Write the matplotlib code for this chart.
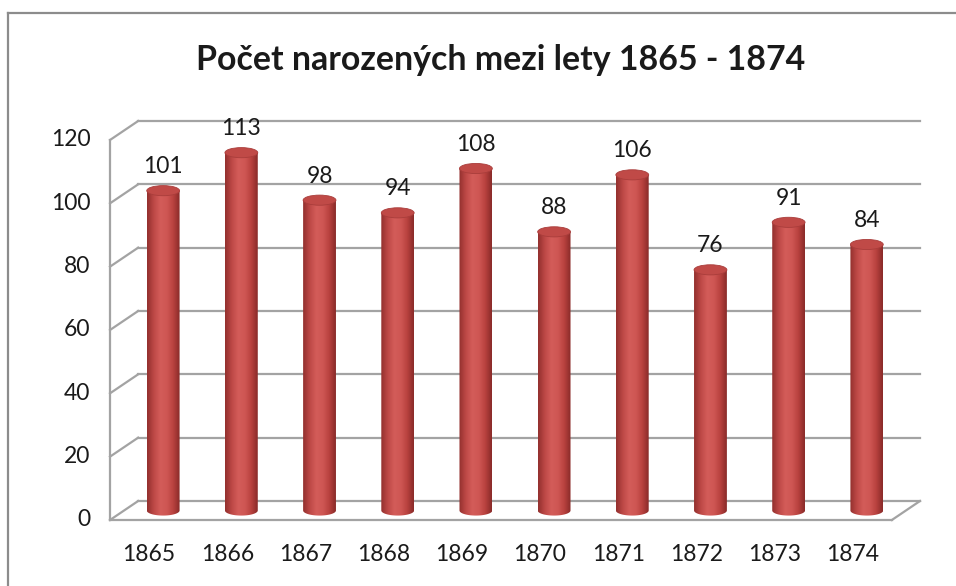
import matplotlib.pyplot as plt
import numpy as np
from matplotlib.colors import LinearSegmentedColormap
from matplotlib.lines import Line2D
from matplotlib.patches import Ellipse, Polygon

plt.rcParams['font.family'] = ['Lato', 'DejaVu Sans']

# data
years = ["1865", "1866", "1867", "1868", "1869", "1870", "1871", "1872", "1873", "1874"]
births = [101, 113, 98, 94, 108, 88, 106, 76, 91, 84]
y_ticks = [0, 20, 40, 60, 80, 100, 120]
title = "Počet narozených mezi lety 1865 - 1874"

# pseudo-3D geometry (data units)
DX, DY = 0.36, 6.0          # offset of the back wall
BAR_W, ELL_H = 0.42, 3.2    # cylinder width and ellipse height
GRID = "#a3a3a3"
FS = 16.5

fig = plt.figure(figsize=(9.56, 5.86), dpi=100)
ax = fig.add_axes([110 / 956, 66 / 586, 810 / 956, 399 / 586])
ax.set_xlim(-0.5, 9.5 + DX)
ax.set_ylim(0, y_ticks[-1] + DY)
ax.axis("off")

# chart border (left + top only, the rest is cut off)
fig.add_artist(Line2D([8 / 956, 8 / 956], [0, 1 - 13 / 586], transform=fig.transFigure,
                      color="#8c8c8c", lw=1.6))
fig.add_artist(Line2D([8 / 956, 1], [1 - 13 / 586] * 2, transform=fig.transFigure,
                      color="#8c8c8c", lw=1.6))

n = len(years)
x0, x1 = -0.5, n - 0.5

# back wall gridlines + side wall diagonals
for v in y_ticks:
    ax.plot([x0 + DX, x1 + DX], [v + DY, v + DY], color=GRID, lw=1.6, clip_on=False)
    ax.plot([x0, x0 + DX], [v, v + DY], color=GRID, lw=1.6, clip_on=False)
    ax.annotate(str(v), (x0, v), xytext=(-14, 0), textcoords="offset points",
                ha="right", va="center", fontsize=FS, color="#1a1a1a")
# side wall front edge, floor front edge and right edge
ax.plot([x0, x0], [0, y_ticks[-1]], color=GRID, lw=1.6, clip_on=False)
ax.plot([x0, x1], [0, 0], color=GRID, lw=1.6, clip_on=False)
ax.plot([x1, x1 + DX], [0, DY], color=GRID, lw=1.6, clip_on=False)

# cylinders
cmap = LinearSegmentedColormap.from_list(
    "cyl", ["#93302e", "#bd4846", "#d35c59", "#cf5754", "#b9423f", "#8a2b29"])
grad = np.linspace(0, 1, 64).reshape(1, -1)
t = np.linspace(np.pi, 2 * np.pi, 40)

for i, (lab, val) in enumerate(zip(years, births)):
    cx = i + DX / 2
    yb = DY / 2
    yt = yb + val
    left, right = cx - BAR_W / 2, cx + BAR_W / 2
    body = np.column_stack([cx + BAR_W / 2 * np.cos(t), yb + ELL_H / 2 * np.sin(t)])
    body = np.vstack([body, [[right, yt], [left, yt]]])
    clip = Polygon(body, closed=True, transform=ax.transData, facecolor="none",
                   edgecolor="none")
    ax.add_patch(clip)
    im = ax.imshow(grad, cmap=cmap, aspect="auto", interpolation="bicubic",
                   extent=[left, right, yb - ELL_H, yt], zorder=3)
    im.set_clip_path(clip)
    ax.add_patch(Ellipse((cx, yt), BAR_W, ELL_H, facecolor="#c04a47",
                         edgecolor="#a93d3b", lw=0.6, zorder=4))
    ax.annotate(str(val), (cx, yt + ELL_H / 2), xytext=(0, 6), textcoords="offset points",
                ha="center", va="bottom", fontsize=FS, color="#1a1a1a")
    ax.annotate(lab, (i, 0), xytext=(0, -25), textcoords="offset points",
                ha="center", va="center", fontsize=FS, color="#1a1a1a")

fig.text(501 / 956, 1 - 60 / 586, title, ha="center", va="center", fontsize=24.4,
         fontweight="bold", color="#1a1a1a")

ax.set_xlim(-0.5, 9.5 + DX)
ax.set_ylim(0, y_ticks[-1] + DY)
fig.savefig("out.png", dpi=100)
